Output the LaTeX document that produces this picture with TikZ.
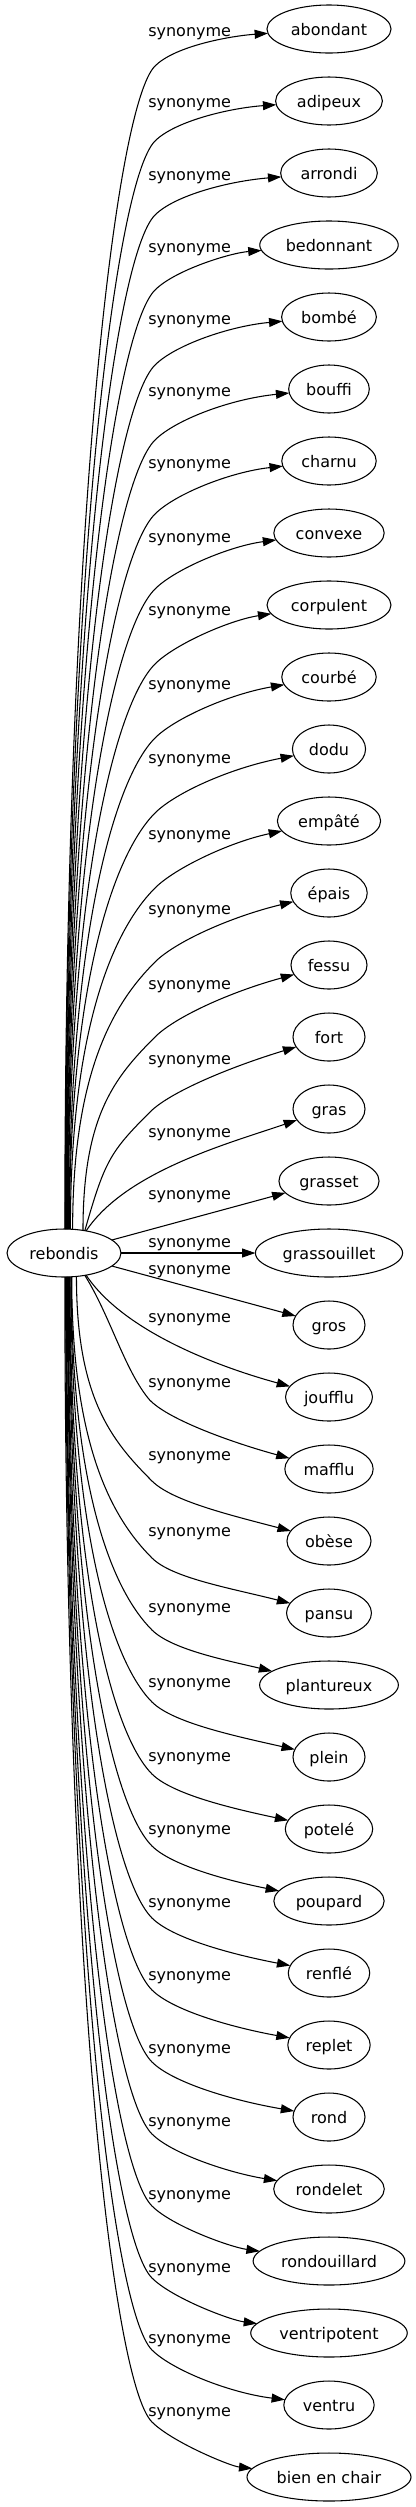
\documentclass[tikz,border=0pt]{standalone}
\usepackage{fontspec}
\setmainfont{DejaVu Sans}
\usetikzlibrary{arrows.meta, positioning, shapes.geometric}

\begin{document}
\begin{tikzpicture}[
    x=0.75pt, y=-0.75pt,
    node distance=18pt,
    every node/.style={font=\fontsize{12}{14}\selectfont},
    entry/.style={draw, ellipse, line width=0.8pt, outer sep=0pt, minimum width=54pt, minimum height=36pt, inner xsep=4.3pt, text height=9pt, text depth=0pt},
    rel/.style={anchor=west, inner sep=0pt, text height=9pt, text depth=0pt},
    arr/.style={-{Triangle[length=10pt, width=6.7pt]}, line width=0.8pt}
  ]
  \useasboundingbox (0,0) rectangle (416,2507);

  % --- Head word ---
  \node[entry] (rebondis) at (64,1253) {rebondis};

  % --- Synonyms, one column ---
  \node[entry] (abondant) at (329,29) {abondant};
  \node[entry, below=of abondant] (adipeux) {adipeux};
  \node[entry, below=of adipeux] (arrondi) {arrondi};
  \node[entry, below=of arrondi] (bedonnant) {bedonnant};
  \node[entry, below=of bedonnant] (bombe) {bombé};
  \node[entry, below=of bombe] (bouffi) {bouffi};
  \node[entry, below=of bouffi] (charnu) {charnu};
  \node[entry, below=of charnu] (convexe) {convexe};
  \node[entry, below=of convexe] (corpulent) {corpulent};
  \node[entry, below=of corpulent] (courbe) {courbé};
  \node[entry, below=of courbe] (dodu) {dodu};
  \node[entry, below=of dodu] (empate) {empâté};
  \node[entry, below=of empate] (epais) {épais};
  \node[entry, below=of epais] (fessu) {fessu};
  \node[entry, below=of fessu] (fort) {fort};
  \node[entry, below=of fort] (gras) {gras};
  \node[entry, below=of gras] (grasset) {grasset};
  \node[entry, below=of grasset] (grassouillet) {grassouillet};
  \node[entry, below=of grassouillet] (gros) {gros};
  \node[entry, below=of gros] (joufflu) {joufflu};
  \node[entry, below=of joufflu] (mafflu) {mafflu};
  \node[entry, below=of mafflu] (obese) {obèse};
  \node[entry, below=of obese] (pansu) {pansu};
  \node[entry, below=of pansu] (plantureux) {plantureux};
  \node[entry, below=of plantureux] (plein) {plein};
  \node[entry, below=of plein] (potele) {potelé};
  \node[entry, below=of potele] (poupard) {poupard};
  \node[entry, below=of poupard] (renfle) {renflé};
  \node[entry, below=of renfle] (replet) {replet};
  \node[entry, below=of replet] (rond) {rond};
  \node[entry, below=of rond] (rondelet) {rondelet};
  \node[entry, below=of rondelet] (rondouillard) {rondouillard};
  \node[entry, below=of rondouillard] (ventripotent) {ventripotent};
  \node[entry, below=of ventripotent] (ventru) {ventru};
  \node[entry, below=of ventru] (bienenchair) {bien en chair};

  % --- Edge labels ---
  \foreach \n/\ly in {abondant/30, adipeux/101, arrondi/174, bedonnant/246, bombe/318,
      bouffi/390, charnu/462, convexe/536, corpulent/609, courbe/683, dodu/757,
      empate/833, epais/908, fessu/983, fort/1058, gras/1131, grasset/1193,
      grassouillet/1241, gros/1268, joufflu/1316, mafflu/1381, obese/1454,
      pansu/1530, plantureux/1606, plein/1681, potele/1755, poupard/1828,
      renfle/1901, replet/1974, rond/2047, rondelet/2120, rondouillard/2193,
      ventripotent/2266, ventru/2337, bienenchair/2410}
    \node[rel] (\n-syn) at (148,\ly) {synonyme};

  % --- Edges going up ---
  \foreach \n/\ang/\py/\ctl/\qy in {abondant/88/66/698/36, adipeux/87/141/653/108,
      arrondi/86/215/608/181, bedonnant/85/290/563/253, bombe/84/365/518/326,
      bouffi/83/440/473/399, charnu/82/514/429/472, convexe/81/589/384/546,
      corpulent/80/664/339/620, courbe/78/738/295/694, dodu/77/813/250/768,
      empate/75/888/205/842, epais/70/962/160/917, fessu/50/1037/115/992}
    \draw[arr] (rebondis.\ang) .. controls +(0,-\ctl) and +(-40,40) .. (155,\py)
      .. controls +(20,-20) and (230,\qy) .. (\n);
  \draw[arr] (rebondis.47) .. controls +(20,-70) and +(-40,40) .. (150,1112)
    .. controls +(20,-20) and (230,1067) .. (fort);
  \draw[arr] (rebondis.45) .. controls +(40,-60) and (230,1143) .. (gras);

  % --- Straight edges ---
  \draw[arr] (rebondis) -- (grasset);
  \draw[arr] (rebondis) -- (grassouillet);
  \draw[arr] (rebondis) -- (gros);

  % --- Edges going down ---
  \draw[arr] (rebondis.-45) .. controls +(40,60) and (230,1370) .. (joufflu);
  \draw[arr] (rebondis.-47) .. controls +(25,40) and +(-24,-30) .. (148,1398)
    .. controls +(16,20) and (230,1442) .. (mafflu);
  \foreach \n/\ang/\py/\ctl/\qy in {obese/-62/1481/122/1515, pansu/-72/1558/169/1588,
      plantureux/-73/1630/212/1661, plein/-74/1702/255/1735, potele/-76/1774/298/1808,
      poupard/-77/1846/341/1881, renfle/-78/1918/385/1954, replet/-80/1990/428/2027,
      rond/-81/2062/471/2100, rondelet/-82/2134/514/2173, rondouillard/-84/2206/557/2247,
      ventripotent/-85/2278/601/2320, ventru/-86/2350/644/2393, bienenchair/-88/2422/687/2466}
    \draw[arr] (rebondis.\ang) .. controls +(0,\ctl) and +(-40,-40) .. (152,\py)
      .. controls +(20,20) and (230,\qy) .. (\n);

\end{tikzpicture}
\end{document}
